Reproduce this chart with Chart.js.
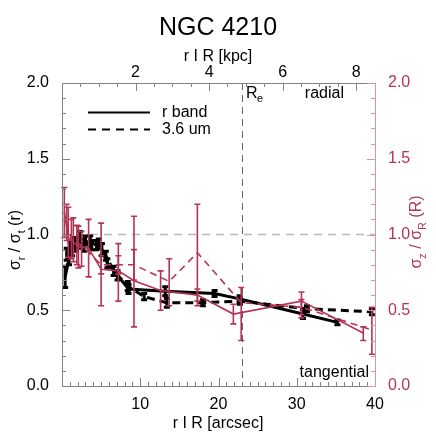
<!DOCTYPE html>
<html>
<head>
<meta charset="utf-8">
<script src="https://cdn.jsdelivr.net/npm/chart.js@4/dist/chart.umd.min.js"></script>
<style>
html,body{margin:0;padding:0;background:#fff}
canvas{display:block}
</style>
</head>
<body>
<canvas id="c" width="436" height="436"></canvas>
<script>
// sigma_r / sigma_t, r band (black solid)
const rbandX = [0.4, 0.9, 1.3, 1.7, 2.2, 2.8, 3.6, 4.4, 5.1, 5.8, 7.1, 8.5, 13.2, 19.5, 22.7, 30.8, 35.2];
const rbandY = [0.72, 0.84, 0.90, 0.93, 0.95, 0.93, 0.95, 0.93, 0.90, 0.81, 0.73, 0.64, 0.625, 0.61, 0.575, 0.475, 0.42];
const rbandErr = [0.07, 0.04, 0.04, 0.04, 0.04, 0.04, 0.04, 0.03, 0.04, 0.03, 0.03, 0.03, 0.03, 0.02, 0.02, 0.03, 0.015];
// sigma_r / sigma_t, 3.6 um (black dashed)
const irX = [0.6, 1.1, 1.6, 2.3, 3.0, 3.8, 4.7, 5.6, 6.6, 8.4, 10.5, 13.4, 18.0, 22.7, 31.3, 39.6];
const irY = [0.87, 0.91, 0.95, 0.98, 0.96, 0.93, 0.94, 0.86, 0.76, 0.66, 0.59, 0.55, 0.55, 0.56, 0.51, 0.49];
const irErr = [0.04, 0.04, 0.03, 0.04, 0.03, 0.03, 0.03, 0.03, 0.03, 0.03, 0.02, 0.03, 0.02, 0.02, 0.02, 0.02];
// sigma_z / sigma_R, r band (red solid)
const zrX = [0.3, 0.8, 1.45, 2.1, 3.4, 5.0, 7.2, 9.2, 12.6, 17.3, 21.9, 30.6, 38.5];
const zrY = [1.15, 0.98, 0.95, 0.92, 0.91, 0.77, 0.76, 0.695, 0.63, 0.60, 0.475, 0.56, 0.35];
const zrLo = [0.98, 0.85, 0.82, 0.78, 0.72, 0.53, 0.56, 0.39, 0.50, 0.56, 0.41, 0.45, 0.30];
const zrHi = [1.31, 1.18, 1.11, 1.055, 1.10, 1.075, 0.94, 1.12, 0.76, 0.64, 0.54, 0.62, 0.39];
// sigma_z / sigma_R, 3.6 um (red dashed)
const ziX = [0.6, 1.2, 1.9, 2.5, 5.0, 7.2, 9.2, 13.7, 17.3, 22.9, 30.6, 39.6];
const ziY = [1.08, 0.97, 0.94, 0.93, 0.80, 0.80, 0.80, 0.69, 0.88, 0.55, 0.52, 0.37];
const ziLo = [0.96, 0.84, 0.80, 0.79, 0.74, 0.74, 0.70, 0.53, 0.53, 0.30, 0.47, 0.21];
const ziHi = [1.20, 1.10, 1.06, 1.02, 0.86, 0.86, 0.90, 0.84, 1.20, 0.65, 0.57, 0.52];

const kpcPerArcsec = 0.2128;
const reArcsec = 23;
const red = 'rgb(180,52,84)';
const pink = 'rgb(214,150,166)';

function pts(xs, ys) { return xs.map((x, i) => ({x: x, y: ys[i]})); }
function sym(ys, e) { return [ys.map((y, i) => y - e[i]), ys.map((y, i) => y + e[i])]; }

const rbandB = sym(rbandY, rbandErr);
const irB = sym(irY, irErr);

const errorBars = {
  id: 'errorBars',
  afterDatasetDraw(chart, args) {
    const ds = chart.data.datasets[args.index];
    if (!ds.lo) return;
    const ctx = chart.ctx;
    const xs = chart.scales.x, ys = chart.scales[ds.yAxisID || 'y'];
    ctx.save();
    ctx.strokeStyle = ds.borderColor;
    ctx.lineWidth = ds.barWidth;
    ctx.setLineDash([]);
    ds.data.forEach((p, i) => {
      const px = xs.getPixelForValue(p.x);
      const y1 = ys.getPixelForValue(ds.lo[i]), y2 = ys.getPixelForValue(ds.hi[i]);
      ctx.beginPath();
      ctx.moveTo(px, y1); ctx.lineTo(px, y2);
      ctx.moveTo(px - ds.cap, y1); ctx.lineTo(px + ds.cap, y1);
      ctx.moveTo(px - ds.cap, y2); ctx.lineTo(px + ds.cap, y2);
      ctx.stroke();
    });
    ctx.restore();
  }
};

function subText(ctx, parts, size) {
  // parts: [text, isSub]; drawn centred on 0 along the baseline
  let w = 0;
  parts.forEach(p => { ctx.font = (p[1] ? size * 0.68 : size) + 'px "Liberation Sans", Arial'; w += ctx.measureText(p[0]).width; });
  let x = -w / 2;
  parts.forEach(p => {
    ctx.font = (p[1] ? size * 0.68 : size) + 'px "Liberation Sans", Arial';
    ctx.fillText(p[0], x, p[1] ? size * 0.3 : 0);
    x += ctx.measureText(p[0]).width;
  });
}

const frame = {
  id: 'frame',
  beforeDatasetsDraw(chart) {
    const {ctx, chartArea: a, scales} = chart;
    ctx.save();
    // reference lines
    ctx.setLineDash([8, 6]);
    ctx.strokeStyle = 'rgb(185,185,185)';
    ctx.lineWidth = 1.5;
    const y1 = scales.y.getPixelForValue(1);
    ctx.beginPath(); ctx.moveTo(a.left, y1); ctx.lineTo(a.right, y1); ctx.stroke();
    ctx.setLineDash([7, 5]);
    ctx.strokeStyle = 'rgb(100,100,100)';
    ctx.lineWidth = 1;
    const xr = Math.round(scales.x.getPixelForValue(reArcsec)) + 0.5;
    ctx.beginPath(); ctx.moveTo(xr, a.top); ctx.lineTo(xr, a.bottom); ctx.stroke();
    ctx.restore();
  },
  afterDraw(chart) {
    const {ctx, chartArea: a, scales} = chart;
    ctx.save();
    ctx.setLineDash([]);
    ctx.lineWidth = 1;
    // axes
    ctx.strokeStyle = 'rgb(130,130,130)';
    ctx.beginPath();
    ctx.moveTo(a.right, a.top + 0.5); ctx.lineTo(a.left + 0.5, a.top + 0.5);
    ctx.lineTo(a.left + 0.5, a.bottom + 0.5); ctx.lineTo(a.right, a.bottom + 0.5);
    ctx.stroke();
    // bottom + top ticks
    for (let v = 0; v <= 40; v += 1) {
      const px = Math.round(scales.x.getPixelForValue(v)) + 0.5;
      const l = v % 10 === 0 ? 8 : 4;
      ctx.beginPath(); ctx.moveTo(px, a.bottom); ctx.lineTo(px, a.bottom - l); ctx.stroke();
    }
    for (let v = 0; v <= 8.5; v += 0.5) {
      const px = Math.round(scales.x2.getPixelForValue(v)) + 0.5;
      const l = v % 2 === 0 ? 8 : 4;
      ctx.beginPath(); ctx.moveTo(px, a.top); ctx.lineTo(px, a.top + l); ctx.stroke();
    }
    for (let i = 0; i <= 20; i++) {
      const py = Math.round(scales.y.getPixelForValue(i / 10)) + 0.5;
      const l = i % 5 === 0 ? 8 : 4;
      ctx.beginPath(); ctx.moveTo(a.left, py); ctx.lineTo(a.left + l, py); ctx.stroke();
    }
    // right axis
    ctx.strokeStyle = pink;
    ctx.beginPath(); ctx.moveTo(a.right + 0.5, a.top); ctx.lineTo(a.right + 0.5, a.bottom + 1); ctx.stroke();
    for (let i = 0; i <= 20; i++) {
      const py = Math.round(scales.y2.getPixelForValue(i / 10)) + 0.5;
      const l = i % 5 === 0 ? 8 : 4;
      ctx.beginPath(); ctx.moveTo(a.right, py); ctx.lineTo(a.right - l, py); ctx.stroke();
    }

    // texts
    ctx.fillStyle = '#000';
    ctx.textBaseline = 'alphabetic';
    ctx.textAlign = 'center';
    ctx.font = '25px "Liberation Sans", Arial';
    ctx.fillText('NGC 4210', 218, 35);
    ctx.font = '16px "Liberation Sans", Arial';
    ctx.fillText('r I R [kpc]', 218, 61);
    ctx.fillText('r I R [arcsec]', 218, 428);

    ctx.textAlign = 'left';
    ctx.save();
    ctx.translate(20, 240); ctx.rotate(-Math.PI / 2);
    subText(ctx, [['\u03c3', 0], ['r', 1], [' / \u03c3', 0], ['t', 1], [' (r)', 0]], 16);
    ctx.restore();
    ctx.save();
    ctx.fillStyle = red;
    ctx.translate(421, 232); ctx.rotate(-Math.PI / 2);
    subText(ctx, [['\u03c3', 0], ['z', 1], [' / \u03c3', 0], ['R', 1], [' (R)', 0]], 16);
    ctx.restore();

    ctx.font = '16px "Liberation Sans", Arial';
    ctx.fillText('R', 246, 98);
    ctx.font = '11px "Liberation Sans", Arial';
    ctx.fillText('e', 257, 102);
    ctx.font = '16px "Liberation Sans", Arial';
    ctx.textAlign = 'right';
    ctx.fillText('radial', 344, 98);
    ctx.fillText('tangential', 369, 377);

    // legend
    ctx.textAlign = 'left';
    ctx.fillText('r band', 162, 117);
    ctx.fillText('3.6 um', 162, 134);
    ctx.strokeStyle = '#000';
    ctx.lineWidth = 2;
    ctx.beginPath(); ctx.moveTo(88, 112.5); ctx.lineTo(150, 112.5); ctx.stroke();
    ctx.setLineDash([8, 6]);
    ctx.beginPath(); ctx.moveTo(88, 129.5); ctx.lineTo(150, 129.5); ctx.stroke();
    ctx.restore();
  }
};

const font = {family: '"Liberation Sans", Arial', size: 16};

new Chart(document.getElementById('c'), {
  type: 'line',
  data: {
    datasets: [
      {data: pts(zrX, zrY), yAxisID: 'y2', borderColor: red, borderWidth: 1.6, lo: zrLo, hi: zrHi, barWidth: 1.6, cap: 3},
      {data: pts(ziX, ziY), yAxisID: 'y2', borderColor: red, borderWidth: 1.6, borderDash: [7, 5], lo: ziLo, hi: ziHi, barWidth: 1.6, cap: 3},
      {data: pts(rbandX, rbandY), yAxisID: 'y', borderColor: '#000', borderWidth: 3, lo: rbandB[0], hi: rbandB[1], barWidth: 3, cap: 3},
      {data: pts(irX, irY), yAxisID: 'y', borderColor: '#000', borderWidth: 3, borderDash: [8, 5], lo: irB[0], hi: irB[1], barWidth: 3, cap: 3}
    ]
  },
  options: {
    responsive: false,
    animation: false,
    events: [],
    elements: {point: {radius: 0}, line: {tension: 0, fill: false}},
    layout: {padding: 0},
    plugins: {legend: {display: false}, title: {display: false}, tooltip: {enabled: false}},
    scales: {
      x: {
        type: 'linear', position: 'bottom', min: 0, max: 40,
        grid: {display: false}, border: {display: false},
        ticks: {stepSize: 10, color: '#000', font: font, padding: 1, maxRotation: 0,
          callback: v => v === 0 ? '' : v},
        afterFit: s => { s.height = 50; }
      },
      x2: {
        type: 'linear', position: 'top', min: 0, max: 40 * kpcPerArcsec,
        grid: {display: false}, border: {display: false},
        ticks: {stepSize: 2, includeBounds: false, color: '#000', font: font, padding: -7, maxRotation: 0,
          callback: v => v === 0 ? '' : v},
        afterFit: s => { s.height = 83; }
      },
      y: {
        type: 'linear', position: 'left', min: 0, max: 2,
        grid: {display: false}, border: {display: false},
        ticks: {stepSize: 0.5, color: '#000', font: font, padding: 5, callback: v => v.toFixed(1)},
        afterFit: s => { s.width = 62; }
      },
      y2: {
        type: 'linear', position: 'right', min: 0, max: 2,
        grid: {display: false}, border: {display: false},
        ticks: {stepSize: 0.5, color: red, font: font, padding: 5, callback: v => v.toFixed(1)},
        afterFit: s => { s.width = 61; }
      }
    }
  },
  plugins: [frame, errorBars]
});
</script>
</body>
</html>
